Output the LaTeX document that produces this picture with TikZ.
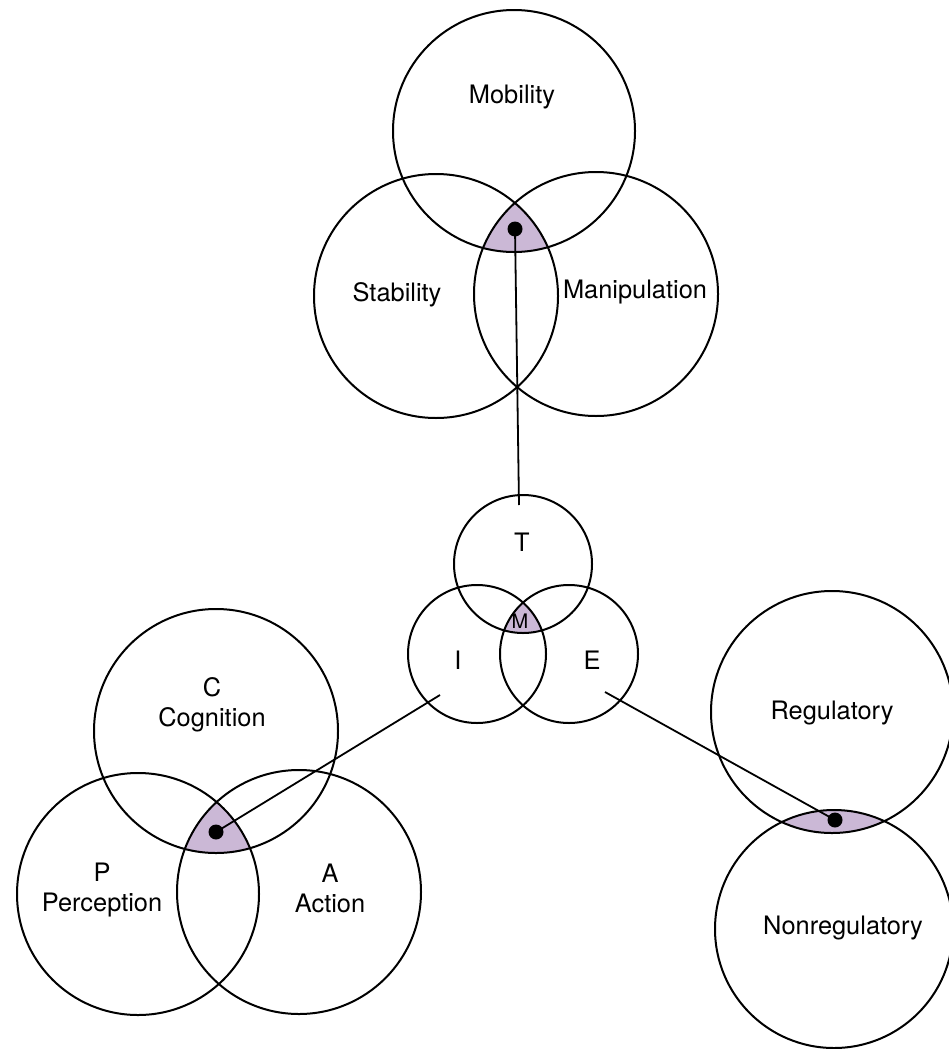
\documentclass[tikz,border=0pt]{standalone}
\usepackage{fontspec}
\setmainfont{TeX Gyre Heros}
\definecolor{lav}{RGB}{203,184,214}
\begin{document}
\begin{tikzpicture}[x=0.5pt,y=-0.5pt,
  ring/.style={circle,draw,line width=1pt,inner sep=0pt},
  lbl/.style={font=\fontsize{12.7}{15}\selectfont,align=center,inner sep=0pt},
  hub/.style={circle,fill=black,inner sep=0pt,minimum size=7.5pt},
  link/.style={line width=0.9pt}]
\useasboundingbox (0,0) rectangle (948,1049);

% ---- shaded overlaps ----
\begin{scope}
  \clip (514,131) circle[radius=60.5pt];
  \clip (436,296) circle[radius=61pt];
  \fill[lav] (596,294) circle[radius=61pt];
\end{scope}
\begin{scope}
  \clip (523,564) circle[radius=34.5pt];
  \clip (477,654) circle[radius=34.5pt];
  \fill[lav] (569,654) circle[radius=34.5pt];
\end{scope}
\begin{scope}
  \clip (216,731) circle[radius=61pt];
  \clip (138,894) circle[radius=60.5pt];
  \fill[lav] (299,892) circle[radius=61pt];
\end{scope}
\begin{scope}
  \clip (832,712) circle[radius=60.5pt];
  \fill[lav] (834,929) circle[radius=59.5pt];
\end{scope}

% ---- circles ----
\node[ring,minimum size=121pt] (mob) at (514,131) {};
\node[ring,minimum size=122pt] (stab) at (436,296) {};
\node[ring,minimum size=122pt] (man) at (596,294) {};

\node[ring,minimum size=69pt] (T) at (523,564) {};
\node[ring,minimum size=69pt] (I) at (477,654) {};
\node[ring,minimum size=69pt] (E) at (569,654) {};

\node[ring,minimum size=122pt] (C) at (216,731) {};
\node[ring,minimum size=121pt] (P) at (138,894) {};
\node[ring,minimum size=122pt] (A) at (299,892) {};

\node[ring,minimum size=121pt] (reg) at (832,712) {};
\node[ring,minimum size=119pt] (nonreg) at (834,929) {};

% ---- labels ----
\node[lbl] (tmob) at (512,97) {Mobility};
\node[lbl] (tstab) at (397,295) {Stability};
\node[lbl] (tman) at (635,292) {Manipulation};
\node[lbl] (tT) at (522,542) {T};
\node[lbl] (tI) at (458,660) {I};
\node[lbl] (tE) at (592,660) {E};
\node[font=\fontsize{10}{12}\selectfont,inner sep=0pt] (tM) at (520,621) {M};
\node[lbl] (tC) at (212,705) {C\\Cognition};
\node[lbl] (tP) at (102,890) {P\\Perception};
\node[lbl] (tA) at (330,888) {A\\Action};
\node[lbl] (treg) at (832,713) {Regulatory};
\node[lbl] (tnon) at (843,928) {Nonregulatory};

% ---- hubs and connectors ----
\node[hub] (dtop) at (515,229) {};
\node[hub] (dbl) at (216,832) {};
\node[hub] (dr) at (835,820) {};

\coordinate (tend) at (519,505);
\coordinate (iend) at (440,695);
\coordinate (eend) at (605,692);

\draw[link] (dtop.center) -- (tend);
\draw[link] (dbl.center) -- (iend);
\draw[link] (eend) -- (dr.center);
\end{tikzpicture}
\end{document}
